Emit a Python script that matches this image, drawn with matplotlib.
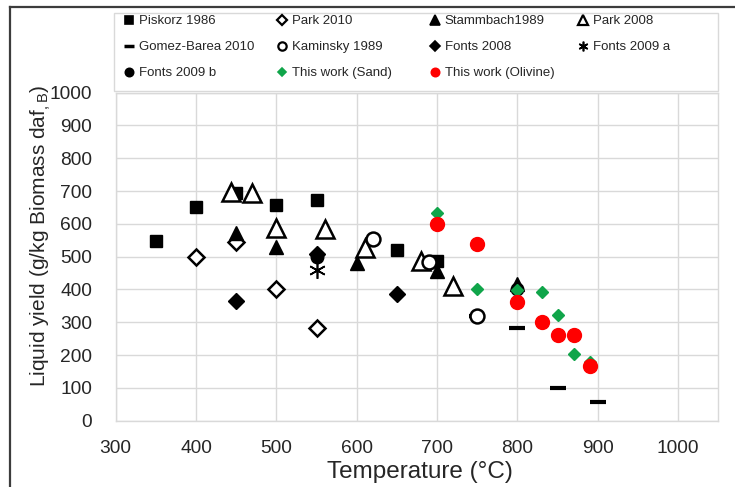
import matplotlib
matplotlib.use('Agg')
import matplotlib.pyplot as plt
from matplotlib.lines import Line2D

plt.rcParams['font.family'] = ['Liberation Sans', 'DejaVu Sans']
plt.rcParams['mathtext.fontset'] = 'custom'
plt.rcParams['mathtext.rm'] = 'Liberation Sans'
plt.rcParams['mathtext.it'] = 'Liberation Sans'

# ---- data (temperature in °C, liquid yield in g/kg) ----
piskorz_T = [350, 400, 450, 500, 550, 650, 700]
piskorz_y = [548, 652, 693, 658, 672, 519, 487]

park2010_T = [400, 450, 500, 550]
park2010_y = [500, 545, 400, 281]

stamm_T = [450, 500, 600, 700, 800]
stamm_y = [573, 528, 481, 456, 415]

park2008_T = [444, 470, 500, 560, 610, 680, 720]
park2008_y = [698, 693, 586, 583, 525, 487, 410]

gomez_T = [750, 800, 850, 900]
gomez_y = [318, 281, 98, 58]

kamin_T = [620, 690, 750]
kamin_y = [553, 485, 320]

fonts08_T = [450, 550, 650]
fonts08_y = [365, 507, 385]

fonts09a_T = [550]
fonts09a_y = [459]

fonts09b_T = [550, 800]
fonts09b_y = [498, 402]

sand_T = [700, 750, 800, 830, 850, 870, 890]
sand_y = [634, 400, 398, 393, 321, 203, 180]

olivine_T = [700, 750, 800, 830, 850, 870, 890]
olivine_y = [598, 538, 363, 300, 261, 261, 167]

green = '#10a54a'
red = '#ff0000'
txt = '#262626'

fig = plt.figure(figsize=(7.35, 4.87), dpi=100)
ax = fig.add_axes([115.7/735, 1-420.6/487, (718.3-115.7)/735, (420.6-92.6)/487])

ax.plot(piskorz_T, piskorz_y, ls='none', marker='s', ms=8.5, color='black')
ax.plot(park2010_T, park2010_y, ls='none', marker='D', ms=8, mfc='white', mec='black', mew=1.8)
ax.plot(stamm_T, stamm_y, ls='none', marker='^', ms=9.5, color='black')
ax.plot(park2008_T, park2008_y, ls='none', marker='^', ms=13, mfc='white', mec='black', mew=1.8)
ax.plot(gomez_T, gomez_y, ls='none', marker='_', ms=11, mec='black', mew=3)
ax.plot(kamin_T, kamin_y, ls='none', marker='o', ms=10, mfc='white', mec='black', mew=1.8)
ax.plot(fonts08_T, fonts08_y, ls='none', marker='D', ms=8, color='black')
ax.plot(fonts09a_T, fonts09a_y, ls='none', marker=(6, 2, 0), ms=12, mec='black', mew=1.2)
ax.plot(fonts09b_T, fonts09b_y, ls='none', marker='o', ms=9, color='black')
ax.plot(sand_T, sand_y, ls='none', marker='D', ms=6, color=green)
ax.plot(olivine_T, olivine_y, ls='none', marker='o', ms=10, color=red)

ax.set_xlim(300, 1050)
ax.set_ylim(0, 1000)
ax.set_xticks(range(300, 1001, 100))
ax.set_yticks(range(0, 1001, 100))
ax.grid(True, color='#d9d9d9', lw=1)
ax.set_axisbelow(True)
for s in ax.spines.values():
    s.set_color('#d9d9d9')
    s.set_linewidth(1)
ax.tick_params(length=0, labelsize=13.8, labelcolor=txt)
ax.tick_params(axis='y', pad=17)
ax.tick_params(axis='x', pad=14)

ax.set_xlabel('Temperature (°C)', fontsize=17.5, color=txt)
ax.xaxis.set_label_coords(0.505, (420.6-472)/328, transform=ax.transAxes)
ax.xaxis.label.set_va('center')
ax.set_ylabel('Liquid yield (g/kg Biomass daf$_{,\\mathrm{B}}$)', fontsize=15, color=txt)
ax.yaxis.set_label_coords((41-115.7)/602.6, (420.6-236)/328, transform=ax.transAxes)
ax.yaxis.label.set_va('center')

# ---- legend : frame + 4 columns ----
def h(marker, ms, fc, ec, mew=1.2):
    return Line2D([], [], ls='none', marker=marker, ms=ms, mfc=fc, mec=ec, mew=mew)

cols = [
    [(h('s', 6, 'black', 'black'), 'Piskorz 1986'),
     (h('_', 7, 'black', 'black', 2.5), 'Gomez-Barea 2010'),
     (h('o', 6, 'black', 'black'), 'Fonts 2009 b')],
    [(h('D', 5, 'white', 'black', 1.6), 'Park 2010'),
     (h('o', 6, 'white', 'black', 1.6), 'Kaminsky 1989'),
     (h('D', 4.5, green, green), 'This work (Sand)')],
    [(h('^', 6.5, 'black', 'black'), 'Stammbach1989'),
     (h('D', 5, 'black', 'black'), 'Fonts 2008'),
     (h('o', 6, red, red), 'This work (Olivine)')],
    [(h('^', 7, 'white', 'black', 1.6), 'Park 2008'),
     (h((6, 2, 0), 7, 'black', 'black', 1.2), 'Fonts 2009 a')],
]
col_x = [124, 277, 430, 578]
for cx, items in zip(col_x, cols):
    leg = fig.legend([i[0] for i in items], [i[1] for i in items],
                     loc='upper left', bbox_to_anchor=(cx/735, 1-15/487),
                     frameon=False, fontsize=9.5, labelcolor=txt,
                     handlelength=0.8, handletextpad=0.3, labelspacing=1.05,
                     borderpad=0, borderaxespad=0)

fig.add_artist(plt.Rectangle((114.3/735, 1-90.7/487), (718.3-114.3)/735, (90.7-13.3)/487,
                             transform=fig.transFigure, fill=False, ec='#d9d9d9', lw=1))

# outer border of the chart area
fig.add_artist(Line2D([10/735, 10/735], [0, 1-6.7/487], transform=fig.transFigure, color='#3c3c3c', lw=1.6))
fig.add_artist(Line2D([10/735, 1], [1-6.7/487, 1-6.7/487], transform=fig.transFigure, color='#3c3c3c', lw=1.6))

fig.savefig('out.png', dpi=100)
